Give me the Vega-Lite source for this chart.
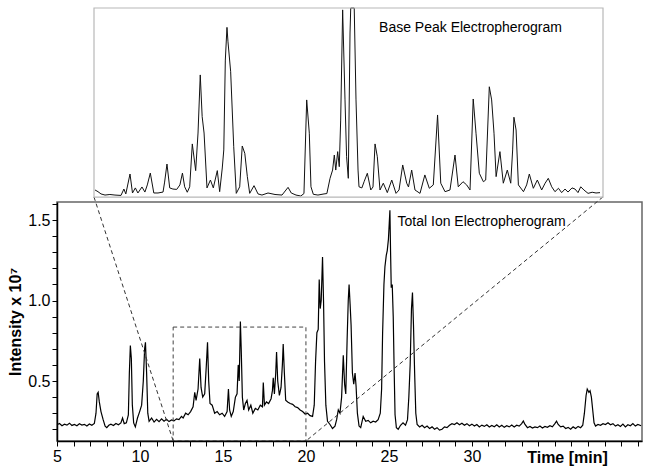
{
  "$schema": "https://vega.github.io/schema/vega-lite/v6.json",
  "width": 585,
  "height": 239,
  "autosize": "none",
  "padding": {"left": 57, "top": 202, "right": 9, "bottom": 34},
  "background": "white",
  "config": {"view": {"stroke": null}, "font": "Liberation Sans"},
  "datasets": {
    "one": [{}],
    "tie": [
      {"t":5.0,"v":0.228},{"t":5.15,"v":0.236},{"t":5.3,"v":0.222},{"t":5.45,"v":0.232},{"t":5.6,"v":0.226},{"t":5.75,"v":0.238},{"t":5.9,"v":0.224},{"t":6.05,"v":0.23},{"t":6.2,"v":0.222},{"t":6.35,"v":0.234},{"t":6.5,"v":0.226},{"t":6.65,"v":0.231},{"t":6.8,"v":0.22},{"t":6.95,"v":0.233},{"t":7.1,"v":0.225},{"t":7.25,"v":0.236},{"t":7.35,"v":0.3},{"t":7.42,"v":0.42},{"t":7.48,"v":0.43},{"t":7.55,"v":0.37},{"t":7.65,"v":0.31},{"t":7.78,"v":0.26},{"t":7.9,"v":0.22},{"t":8.0,"v":0.21},{"t":8.12,"v":0.225},{"t":8.25,"v":0.232},{"t":8.4,"v":0.224},{"t":8.55,"v":0.236},{"t":8.7,"v":0.228},{"t":8.85,"v":0.24},{"t":8.95,"v":0.27},{"t":9.05,"v":0.235},{"t":9.18,"v":0.24},{"t":9.3,"v":0.29},{"t":9.36,"v":0.55},{"t":9.42,"v":0.72},{"t":9.48,"v":0.64},{"t":9.54,"v":0.35},{"t":9.62,"v":0.24},{"t":9.72,"v":0.215},{"t":9.85,"v":0.27},{"t":9.98,"v":0.31},{"t":10.1,"v":0.35},{"t":10.2,"v":0.5},{"t":10.28,"v":0.7},{"t":10.33,"v":0.74},{"t":10.4,"v":0.55},{"t":10.47,"v":0.3},{"t":10.55,"v":0.25},{"t":10.7,"v":0.27},{"t":10.85,"v":0.245},{"t":11.0,"v":0.262},{"t":11.15,"v":0.248},{"t":11.3,"v":0.265},{"t":11.45,"v":0.25},{"t":11.6,"v":0.262},{"t":11.75,"v":0.248},{"t":11.9,"v":0.258},{"t":12.05,"v":0.252},{"t":12.2,"v":0.265},{"t":12.35,"v":0.26},{"t":12.5,"v":0.28},{"t":12.6,"v":0.27},{"t":12.75,"v":0.3},{"t":12.9,"v":0.29},{"t":13.05,"v":0.31},{"t":13.2,"v":0.34},{"t":13.3,"v":0.43},{"t":13.38,"v":0.38},{"t":13.5,"v":0.45},{"t":13.6,"v":0.64},{"t":13.68,"v":0.46},{"t":13.78,"v":0.4},{"t":13.9,"v":0.42},{"t":14.0,"v":0.6},{"t":14.07,"v":0.74},{"t":14.14,"v":0.5},{"t":14.22,"v":0.36},{"t":14.35,"v":0.35},{"t":14.5,"v":0.3},{"t":14.65,"v":0.31},{"t":14.8,"v":0.29},{"t":14.95,"v":0.3},{"t":15.1,"v":0.28},{"t":15.25,"v":0.31},{"t":15.33,"v":0.45},{"t":15.4,"v":0.32},{"t":15.5,"v":0.28},{"t":15.62,"v":0.31},{"t":15.75,"v":0.4},{"t":15.85,"v":0.42},{"t":15.92,"v":0.6},{"t":15.98,"v":0.5},{"t":16.05,"v":0.87},{"t":16.1,"v":0.7},{"t":16.17,"v":0.4},{"t":16.25,"v":0.32},{"t":16.35,"v":0.36},{"t":16.45,"v":0.38},{"t":16.55,"v":0.32},{"t":16.68,"v":0.35},{"t":16.8,"v":0.3},{"t":16.95,"v":0.33},{"t":17.1,"v":0.32},{"t":17.25,"v":0.35},{"t":17.38,"v":0.34},{"t":17.43,"v":0.49},{"t":17.5,"v":0.35},{"t":17.62,"v":0.37},{"t":17.75,"v":0.36},{"t":17.9,"v":0.39},{"t":17.98,"v":0.44},{"t":18.03,"v":0.52},{"t":18.1,"v":0.42},{"t":18.18,"v":0.55},{"t":18.23,"v":0.68},{"t":18.3,"v":0.5},{"t":18.4,"v":0.41},{"t":18.5,"v":0.46},{"t":18.58,"v":0.6},{"t":18.63,"v":0.73},{"t":18.7,"v":0.55},{"t":18.78,"v":0.38},{"t":18.9,"v":0.37},{"t":19.05,"v":0.36},{"t":19.2,"v":0.355},{"t":19.35,"v":0.34},{"t":19.5,"v":0.335},{"t":19.65,"v":0.32},{"t":19.8,"v":0.31},{"t":19.95,"v":0.295},{"t":20.1,"v":0.3},{"t":20.25,"v":0.285},{"t":20.4,"v":0.28},{"t":20.5,"v":0.35},{"t":20.58,"v":0.62},{"t":20.66,"v":0.8},{"t":20.74,"v":0.82},{"t":20.8,"v":1.13},{"t":20.86,"v":0.95},{"t":20.92,"v":1.0},{"t":21.0,"v":1.27},{"t":21.06,"v":1.0},{"t":21.12,"v":0.62},{"t":21.2,"v":0.35},{"t":21.3,"v":0.25},{"t":21.45,"v":0.23},{"t":21.6,"v":0.205},{"t":21.75,"v":0.22},{"t":21.85,"v":0.26},{"t":21.95,"v":0.32},{"t":22.05,"v":0.3},{"t":22.15,"v":0.4},{"t":22.25,"v":0.66},{"t":22.33,"v":0.48},{"t":22.4,"v":0.42},{"t":22.48,"v":0.75},{"t":22.55,"v":1.0},{"t":22.6,"v":1.1},{"t":22.66,"v":0.98},{"t":22.72,"v":0.85},{"t":22.8,"v":0.55},{"t":22.88,"v":0.48},{"t":22.96,"v":0.55},{"t":23.02,"v":0.47},{"t":23.1,"v":0.3},{"t":23.2,"v":0.22},{"t":23.3,"v":0.21},{"t":23.45,"v":0.28},{"t":23.6,"v":0.25},{"t":23.75,"v":0.255},{"t":23.9,"v":0.24},{"t":24.05,"v":0.25},{"t":24.2,"v":0.245},{"t":24.35,"v":0.26},{"t":24.48,"v":0.3},{"t":24.56,"v":0.45},{"t":24.62,"v":0.8},{"t":24.7,"v":1.1},{"t":24.76,"v":1.21},{"t":24.84,"v":1.28},{"t":24.9,"v":1.31},{"t":24.97,"v":1.38},{"t":25.02,"v":1.48},{"t":25.06,"v":1.56},{"t":25.1,"v":1.3},{"t":25.14,"v":1.08},{"t":25.2,"v":1.1},{"t":25.26,"v":0.9},{"t":25.31,"v":0.6},{"t":25.37,"v":0.29},{"t":25.45,"v":0.21},{"t":25.56,"v":0.2},{"t":25.7,"v":0.225},{"t":25.85,"v":0.24},{"t":26.0,"v":0.225},{"t":26.12,"v":0.26},{"t":26.2,"v":0.4},{"t":26.28,"v":0.6},{"t":26.36,"v":0.95},{"t":26.42,"v":1.05},{"t":26.48,"v":0.85},{"t":26.55,"v":0.55},{"t":26.62,"v":0.3},{"t":26.7,"v":0.23},{"t":26.85,"v":0.215},{"t":27.0,"v":0.225},{"t":27.15,"v":0.21},{"t":27.3,"v":0.22},{"t":27.45,"v":0.205},{"t":27.6,"v":0.215},{"t":27.75,"v":0.2},{"t":27.9,"v":0.21},{"t":28.05,"v":0.195},{"t":28.2,"v":0.2},{"t":28.35,"v":0.215},{"t":28.5,"v":0.21},{"t":28.65,"v":0.225},{"t":28.8,"v":0.235},{"t":28.95,"v":0.23},{"t":29.1,"v":0.24},{"t":29.25,"v":0.228},{"t":29.4,"v":0.238},{"t":29.55,"v":0.225},{"t":29.7,"v":0.235},{"t":29.85,"v":0.222},{"t":30.0,"v":0.232},{"t":30.15,"v":0.22},{"t":30.3,"v":0.23},{"t":30.45,"v":0.215},{"t":30.6,"v":0.226},{"t":30.75,"v":0.218},{"t":30.9,"v":0.228},{"t":31.05,"v":0.214},{"t":31.2,"v":0.224},{"t":31.35,"v":0.216},{"t":31.5,"v":0.228},{"t":31.65,"v":0.215},{"t":31.8,"v":0.225},{"t":31.95,"v":0.212},{"t":32.1,"v":0.222},{"t":32.25,"v":0.215},{"t":32.4,"v":0.226},{"t":32.55,"v":0.214},{"t":32.7,"v":0.225},{"t":32.85,"v":0.22},{"t":33.0,"v":0.235},{"t":33.1,"v":0.252},{"t":33.2,"v":0.23},{"t":33.35,"v":0.21},{"t":33.5,"v":0.218},{"t":33.65,"v":0.208},{"t":33.8,"v":0.215},{"t":33.95,"v":0.21},{"t":34.1,"v":0.22},{"t":34.25,"v":0.208},{"t":34.4,"v":0.218},{"t":34.55,"v":0.212},{"t":34.7,"v":0.222},{"t":34.85,"v":0.215},{"t":35.0,"v":0.235},{"t":35.1,"v":0.25},{"t":35.2,"v":0.23},{"t":35.35,"v":0.215},{"t":35.5,"v":0.22},{"t":35.65,"v":0.205},{"t":35.8,"v":0.212},{"t":35.95,"v":0.2},{"t":36.1,"v":0.215},{"t":36.25,"v":0.205},{"t":36.4,"v":0.218},{"t":36.55,"v":0.21},{"t":36.68,"v":0.225},{"t":36.78,"v":0.3},{"t":36.88,"v":0.41},{"t":36.95,"v":0.45},{"t":37.05,"v":0.43},{"t":37.12,"v":0.44},{"t":37.2,"v":0.4},{"t":37.28,"v":0.32},{"t":37.36,"v":0.24},{"t":37.45,"v":0.22},{"t":37.6,"v":0.23},{"t":37.75,"v":0.225},{"t":37.9,"v":0.235},{"t":38.05,"v":0.23},{"t":38.2,"v":0.24},{"t":38.35,"v":0.228},{"t":38.5,"v":0.235},{"t":38.65,"v":0.22},{"t":38.8,"v":0.228},{"t":38.95,"v":0.218},{"t":39.1,"v":0.232},{"t":39.25,"v":0.215},{"t":39.4,"v":0.228},{"t":39.55,"v":0.222},{"t":39.7,"v":0.235},{"t":39.85,"v":0.22},{"t":40.0,"v":0.23},{"t":40.2,"v":0.222}
    ],
    "bpe": [
      {"t":12.016,"v":3.2},{"t":12.063,"v":2.3},{"t":12.11,"v":1.1},{"t":12.173,"v":0.5},{"t":12.25,"v":0.8},{"t":12.33,"v":0.5},{"t":12.424,"v":0.3},{"t":12.47,"v":3.7},{"t":12.5,"v":1.1},{"t":12.566,"v":11.7},{"t":12.605,"v":1.6},{"t":12.65,"v":4.3},{"t":12.69,"v":1.6},{"t":12.754,"v":4.8},{"t":12.8,"v":2.1},{"t":12.838,"v":5.9},{"t":12.885,"v":12.2},{"t":12.94,"v":1.6},{"t":13.006,"v":1.6},{"t":13.085,"v":2.1},{"t":13.11,"v":7.4},{"t":13.147,"v":17.0},{"t":13.19,"v":4.3},{"t":13.24,"v":3.7},{"t":13.3,"v":3.5},{"t":13.35,"v":5.9},{"t":13.39,"v":12.2},{"t":13.425,"v":4.9},{"t":13.466,"v":2.0},{"t":13.504,"v":4.9},{"t":13.545,"v":27.7},{"t":13.598,"v":13.5},{"t":13.635,"v":33.5},{"t":13.67,"v":64.4},{"t":13.7,"v":42.2},{"t":13.73,"v":33.5},{"t":13.776,"v":4.3},{"t":13.83,"v":8.5},{"t":13.875,"v":4.3},{"t":13.938,"v":13.5},{"t":13.975,"v":2.3},{"t":14.016,"v":14.9},{"t":14.04,"v":24.5},{"t":14.064,"v":72.3},{"t":14.09,"v":89.7},{"t":14.106,"v":82.0},{"t":14.148,"v":66.1},{"t":14.196,"v":26.2},{"t":14.236,"v":1.4},{"t":14.29,"v":4.9},{"t":14.33,"v":26.6},{"t":14.37,"v":22.7},{"t":14.41,"v":10.3},{"t":14.447,"v":1.4},{"t":14.515,"v":5.5},{"t":14.578,"v":1.1},{"t":14.64,"v":0.5},{"t":14.735,"v":1.6},{"t":14.845,"v":0.8},{"t":14.955,"v":0.5},{"t":15.05,"v":4.6},{"t":15.1,"v":1.6},{"t":15.175,"v":0.5},{"t":15.25,"v":0.0},{"t":15.3,"v":1.3},{"t":15.343,"v":51.1},{"t":15.384,"v":33.4},{"t":15.41,"v":4.9},{"t":15.447,"v":0.9},{"t":15.52,"v":0.5},{"t":15.615,"v":1.1},{"t":15.66,"v":1.3},{"t":15.71,"v":9.4},{"t":15.75,"v":13.8},{"t":15.777,"v":21.8},{"t":15.8,"v":13.8},{"t":15.83,"v":23.6},{"t":15.855,"v":15.6},{"t":15.877,"v":40.4},{"t":15.908,"v":99.0},{"t":15.945,"v":51.1},{"t":15.97,"v":20.9},{"t":15.997,"v":9.4},{"t":16.024,"v":86.7},{"t":16.035,"v":100},{"t":16.09,"v":100},{"t":16.118,"v":51.1},{"t":16.15,"v":13.8},{"t":16.165,"v":4.9},{"t":16.21,"v":4.3},{"t":16.245,"v":7.6},{"t":16.296,"v":12.1},{"t":16.35,"v":3.2},{"t":16.385,"v":4.8},{"t":16.417,"v":27.7},{"t":16.453,"v":20.9},{"t":16.495,"v":3.2},{"t":16.547,"v":6.8},{"t":16.61,"v":1.8},{"t":16.68,"v":8.5},{"t":16.747,"v":1.4},{"t":16.794,"v":3.2},{"t":16.852,"v":16.5},{"t":16.915,"v":6.8},{"t":16.943,"v":4.8},{"t":16.993,"v":13.8},{"t":17.045,"v":3.2},{"t":17.124,"v":1.4},{"t":17.2,"v":11.2},{"t":17.27,"v":4.1},{"t":17.333,"v":5.9},{"t":17.4,"v":43.1},{"t":17.45,"v":6.8},{"t":17.517,"v":2.3},{"t":17.595,"v":3.2},{"t":17.674,"v":21.8},{"t":17.725,"v":4.9},{"t":17.8,"v":7.6},{"t":17.857,"v":5.9},{"t":17.91,"v":3.2},{"t":17.96,"v":51.6},{"t":18.004,"v":33.4},{"t":18.056,"v":12.1},{"t":18.12,"v":7.6},{"t":18.156,"v":8.5},{"t":18.213,"v":58.1},{"t":18.25,"v":51.1},{"t":18.287,"v":33.4},{"t":18.32,"v":10.3},{"t":18.38,"v":23.6},{"t":18.433,"v":6.8},{"t":18.496,"v":13.8},{"t":18.55,"v":6.8},{"t":18.58,"v":24.5},{"t":18.6,"v":41.9},{"t":18.634,"v":35.1},{"t":18.67,"v":5.9},{"t":18.75,"v":2.3},{"t":18.8,"v":5.9},{"t":18.842,"v":11.7},{"t":18.905,"v":4.1},{"t":18.968,"v":8.5},{"t":19.036,"v":3.2},{"t":19.09,"v":6.8},{"t":19.14,"v":9.4},{"t":19.194,"v":4.9},{"t":19.245,"v":2.3},{"t":19.3,"v":4.1},{"t":19.35,"v":1.8},{"t":19.403,"v":3.7},{"t":19.45,"v":2.1},{"t":19.513,"v":4.3},{"t":19.56,"v":3.7},{"t":19.607,"v":1.8},{"t":19.65,"v":4.9},{"t":19.7,"v":3.2},{"t":19.765,"v":1.4},{"t":19.83,"v":2.0},{"t":19.89,"v":1.6},{"t":19.953,"v":1.8}
    ]
  },
  "layer": [
    {
      "layer": [
        {
          "data": {"name": "tie"},
          "mark": {"type": "line", "color": "#000", "strokeWidth": 1.2, "interpolate": "linear"},
          "encoding": {
            "x": {
              "field": "t", "type": "quantitative",
              "scale": {"domain": [5, 40.25], "nice": false, "zero": false},
              "axis": {
                "values": [5,6,7,8,9,10,11,12,13,14,15,16,17,18,19,20,21,22,23,24,25,26,27,28,29,30,31,32,33,34,35,36,37,38,39,40],
                "tickCount": 200,
                "labelExpr": "(datum.value % 5 == 0 && datum.value < 35) ? format(datum.value, 'd') : ''",
                "grid": false, "zindex": 2,
                "domainColor": "#000", "domainWidth": 1.5,
                "tickColor": "#000", "tickSize": 5, "tickWidth": 1,
                "labelFontSize": 16, "labelColor": "#000", "labelPadding": 2, "labelFont": "Liberation Sans",
                "labelOverlap": false, "labelFlush": false,
                "title": "Time [min]", "titleFontSize": 16, "titleFontWeight": "bold", "titleColor": "#000", "titleFont": "Liberation Sans",
                "titleX": 510, "titleY": 16, "titleAlign": "center", "titleBaseline": "middle"
              }
            },
            "y": {
              "field": "v", "type": "quantitative",
              "scale": {"domain": [0.1273, 1.612], "nice": false, "zero": false},
              "axis": {
                "values": [0.2,0.3,0.4,0.5,0.6,0.7,0.8,0.9,1.0,1.1,1.2,1.3,1.4,1.5,1.6],
                "tickCount": 200,
                "labelExpr": "abs(datum.value*2 - round(datum.value*2)) < 0.001 ? format(datum.value, '.1f') : ''",
                "grid": false, "zindex": 2,
                "domainColor": "#000", "domainWidth": 1.5,
                "tickColor": "#000", "tickSize": 5, "tickWidth": 1,
                "labelFontSize": 16, "labelColor": "#000", "labelPadding": 2, "labelFont": "Liberation Sans",
                "labelOverlap": false, "labelFlush": false,
                "title": "Intensity x 10⁷", "titleFontSize": 16, "titleFontWeight": "bold", "titleColor": "#000", "titleFont": "Liberation Sans",
                "titlePadding": 4
              }
            }
          }
        },
        {
          "data": {"name": "one"},
          "mark": {"type": "rect", "filled": false, "stroke": "#666", "strokeWidth": 1.5},
          "encoding": {
            "x": {"datum": 5, "type": "quantitative"},
            "x2": {"datum": 40.25},
            "y": {"datum": 0.1273, "type": "quantitative"},
            "y2": {"datum": 1.612}
          }
        },
        {
          "data": {"name": "one"},
          "mark": {"type": "rect", "filled": false, "stroke": "#444", "strokeWidth": 1, "strokeDash": [4, 3]},
          "encoding": {
            "x": {"datum": 12, "type": "quantitative"},
            "x2": {"datum": 20},
            "y": {"datum": 0.1273, "type": "quantitative"},
            "y2": {"datum": 0.835}
          }
        },
        {
          "data": {"name": "one"},
          "mark": {"type": "rule", "stroke": "#333", "strokeWidth": 1, "strokeDash": [4, 3]},
          "encoding": {
            "x": {"datum": 7.229, "type": "quantitative"},
            "y": {"datum": 1.643, "type": "quantitative"},
            "x2": {"datum": 12},
            "y2": {"datum": 0.1273}
          }
        },
        {
          "data": {"name": "one"},
          "mark": {"type": "rule", "stroke": "#333", "strokeWidth": 1, "strokeDash": [4, 3]},
          "encoding": {
            "x": {"datum": 37.89, "type": "quantitative"},
            "y": {"datum": 1.643, "type": "quantitative"},
            "x2": {"datum": 20},
            "y2": {"datum": 0.1273}
          }
        },
        {
          "data": {"name": "one"},
          "mark": {"type": "text", "text": "Total Ion Electropherogram", "align": "left", "baseline": "middle", "fontSize": 14, "font": "Liberation Sans", "color": "#000"},
          "encoding": {
            "x": {"datum": 25.52, "type": "quantitative"},
            "y": {"datum": 1.488, "type": "quantitative"}
          }
        }
      ]
    },
    {
      "layer": [
        {
          "data": {"name": "bpe"},
          "mark": {"type": "line", "color": "#111", "strokeWidth": 1},
          "encoding": {
            "x": {"field": "t", "type": "quantitative", "scale": {"domain": [12, 20], "range": [37, 546], "nice": false, "zero": false}, "axis": null},
            "y": {"field": "v", "type": "quantitative", "scale": {"domain": [0, 100], "range": [-6, -194], "nice": false, "zero": false}, "axis": null}
          }
        },
        {
          "data": {"name": "one"},
          "mark": {"type": "rect", "filled": false, "stroke": "#b8b8b8", "strokeWidth": 1.2},
          "encoding": {
            "x": {"datum": 12, "type": "quantitative", "axis": null},
            "x2": {"datum": 20},
            "y": {"datum": -0.6, "type": "quantitative", "axis": null},
            "y2": {"datum": 100}
          }
        },
        {
          "data": {"name": "one"},
          "mark": {"type": "text", "text": "Base Peak Electropherogram", "align": "left", "baseline": "middle", "fontSize": 14, "font": "Liberation Sans", "color": "#000"},
          "encoding": {
            "x": {"datum": 16.48, "type": "quantitative", "axis": null},
            "y": {"datum": 89.4, "type": "quantitative", "axis": null}
          }
        }
      ]
    }
  ],
  "resolve": {"scale": {"x": "independent", "y": "independent"}, "axis": {"x": "independent", "y": "independent"}}
}
